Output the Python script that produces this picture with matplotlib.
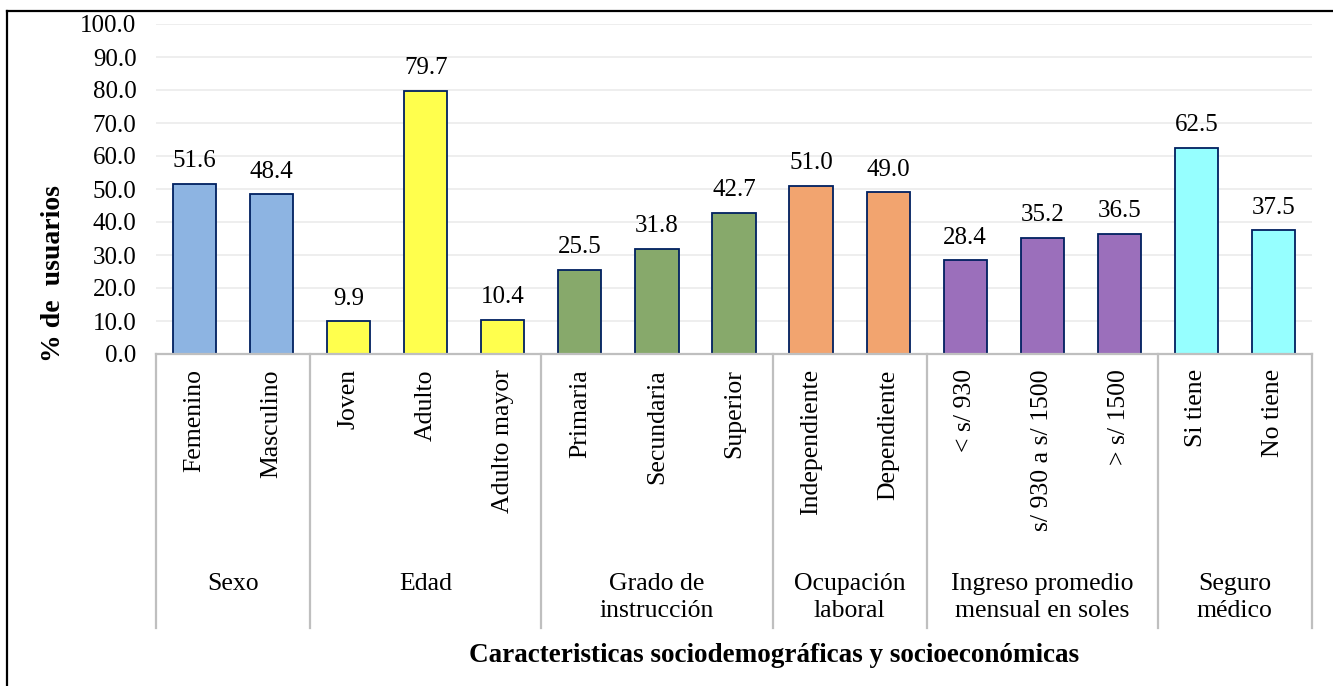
import matplotlib.pyplot as plt
from matplotlib.lines import Line2D

plt.rcParams["font.family"] = ["Liberation Serif", "DejaVu Serif"]

categories = [
    "Femenino", "Masculino",
    "Joven", "Adulto", "Adulto mayor",
    "Primaria", "Secundaria", "Superior",
    "Independiente", "Dependiente",
    "< s/ 930", "s/ 930 a s/ 1500", "> s/ 1500",
    "Si tiene", "No tiene",
]
values = [51.6, 48.4, 9.9, 79.7, 10.4, 25.5, 31.8, 42.7, 51.0, 49.0, 28.4, 35.2, 36.5, 62.5, 37.5]
groups = [
    "Sexo", "Edad", "Grado de\ninstrucción", "Ocupación\nlaboral",
    "Ingreso promedio\nmensual en soles", "Seguro\nmédico",
]
group_sizes = [2, 3, 3, 2, 3, 2]
group_colors = ["#8DB4E2", "#FFFF4D", "#87A96B", "#F2A46F", "#9B6FBB", "#96FFFF"]

# one colour per bar, repeated by group
bar_colors = []
for c, n in zip(group_colors, group_sizes):
    bar_colors += [c] * n

W, H = 1333, 686
fig = plt.figure(figsize=(W / 100, H / 100), dpi=100)
ax = fig.add_axes([156 / W, 1 - 354 / H, (1312 - 156) / W, (354 - 24) / H])

x = list(range(len(categories)))
ax.bar(x, values, width=0.56, color=bar_colors, edgecolor="#002060", linewidth=1.3, zorder=3)

for xi, v in zip(x, values):
    ax.annotate(f"{v:.1f}", (xi, v), xytext=(0, 12), textcoords="offset points",
                ha="center", va="baseline", fontsize=18)

ax.set_xlim(-0.5, len(categories) - 0.5)
ax.set_ylim(0, 100)
ax.set_yticks(range(0, 101, 10))
ax.set_yticklabels([f"{t:.1f}" for t in range(0, 101, 10)], fontsize=18)
ax.set_xticks(x)
ax.set_xticklabels(categories, rotation=90, fontsize=18.5, va="top")
ax.tick_params(axis="y", length=0, pad=14)
ax.tick_params(axis="x", length=0, pad=11)
ax.grid(axis="y", color="#EDEDED", linewidth=1.3, zorder=0)

for s in ["top", "right", "left"]:
    ax.spines[s].set_visible(False)
ax.spines["bottom"].set_color("#BFBFBF")
ax.spines["bottom"].set_linewidth(1.6)
ax.spines["bottom"].set_zorder(4)

# group separators and group names under the tick labels
trans = ax.get_xaxis_transform()
bottom = (354 - 628) / 330
edges = [-0.5]
for n in group_sizes:
    edges.append(edges[-1] + n)
for e in edges:
    ax.plot([e, e], [0, bottom], transform=trans, color="#BFBFBF", lw=1.6, clip_on=False)
for i, g in enumerate(groups):
    mid = (edges[i] + edges[i + 1]) / 2
    ax.text(mid, (354 - 573) / 330, g, transform=trans, ha="center", va="top",
            fontsize=18.5, linespacing=1.3)

fig.text(53 / W, 1 - 274 / H, "% de  usuarios", rotation=90, ha="center", va="center",
         fontsize=20, fontweight="bold")
fig.text(774 / W, 1 - 655 / H, "Caracteristicas sociodemográficas y socioeconómicas",
         ha="center", va="center", fontsize=19.5, fontweight="bold")

# outer chart border (right and bottom edges fall outside the picture)
x0, y0 = 6.5 / W, 1 - 10.5 / H
fig.add_artist(Line2D([x0, x0], [0, y0], transform=fig.transFigure, color="black", lw=1.6))
fig.add_artist(Line2D([x0, 1], [y0, y0], transform=fig.transFigure, color="black", lw=1.6))

fig.savefig("out.png", dpi=100)
